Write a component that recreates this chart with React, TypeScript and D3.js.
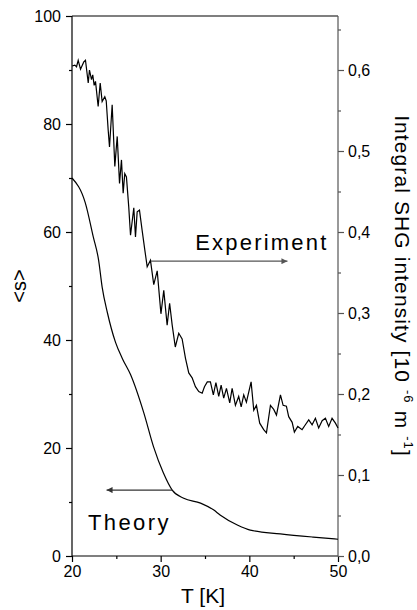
import React, { useEffect, useRef } from "react";
import * as d3 from "d3";

// theory curve, left axis <s>
const T_THEORY = [20.0, 21.5, 22.4, 23.0, 23.4, 24.0, 24.9, 25.7, 26.6, 28.1, 29.2, 30.3, 31.3, 32.6, 34.5, 36.0, 36.7, 38.7, 40.1, 43.5, 47.2, 50.0];
const S_THEORY = [70, 65.4, 59.1, 54.8, 49.8, 45.0, 39.6, 36.5, 33.6, 26.5, 20.2, 15.4, 12.2, 10.7, 9.8, 8.5, 7.6, 5.7, 4.8, 4.1, 3.5, 3.1];

// experiment, right axis (integral SHG intensity)
const T_EXP = [20.02, 20.32, 20.51, 20.7, 20.96, 21.33, 21.52, 21.83, 21.97, 22.2, 22.34, 22.5, 22.65, 22.95, 23.18, 23.4, 23.7, 23.86, 24.08, 24.23, 24.53, 24.83, 25.1, 25.36, 25.58, 25.77, 25.95, 26.14, 26.4, 26.6, 26.97, 27.16, 27.35, 27.61, 27.91, 28.21, 28.48, 28.85, 29.22, 29.61, 30.03, 30.35, 30.73, 31.01, 31.3, 31.65, 32.04, 32.42, 32.8, 33.17, 33.55, 33.92, 34.3, 34.68, 34.94, 35.26, 35.61, 35.94, 36.23, 36.55, 36.82, 37.11, 37.42, 37.79, 38.06, 38.43, 38.8, 39.08, 39.37, 39.67, 40.2, 40.5, 40.8, 41.17, 41.62, 41.93, 42.38, 42.75, 43.06, 43.51, 43.81, 44.18, 44.44, 44.83, 45.08, 45.46, 45.95, 46.32, 46.7, 47.08, 47.45, 47.82, 48.21, 48.58, 48.95, 49.33, 49.71, 50.0];
const SHG_EXP = [0.605, 0.606, 0.604, 0.612, 0.601, 0.61, 0.612, 0.584, 0.6, 0.588, 0.594, 0.581, 0.586, 0.555, 0.584, 0.561, 0.567, 0.562, 0.526, 0.505, 0.557, 0.481, 0.518, 0.46, 0.489, 0.448, 0.472, 0.468, 0.431, 0.396, 0.43, 0.394, 0.425, 0.427, 0.402, 0.378, 0.357, 0.365, 0.335, 0.352, 0.299, 0.328, 0.285, 0.312, 0.285, 0.258, 0.275, 0.268, 0.244, 0.226, 0.22, 0.209, 0.203, 0.201, 0.209, 0.215, 0.215, 0.199, 0.214, 0.197, 0.211, 0.195, 0.207, 0.189, 0.207, 0.186, 0.197, 0.184, 0.199, 0.19, 0.215, 0.18, 0.186, 0.164, 0.156, 0.152, 0.186, 0.181, 0.174, 0.199, 0.186, 0.185, 0.172, 0.165, 0.153, 0.16, 0.156, 0.162, 0.168, 0.162, 0.17, 0.158, 0.167, 0.17, 0.16, 0.17, 0.164, 0.158];

const X_TICKS = [20, 30, 40, 50];
const X_MINOR = [25, 35, 45];
const LEFT_TICKS = [0, 20, 40, 60, 80, 100];
const LEFT_MINOR = [10, 30, 50, 70, 90];
const RIGHT_TICKS = [0, 0.1, 0.2, 0.3, 0.4, 0.5, 0.6];
const RIGHT_MINOR = [0.05, 0.15, 0.25, 0.35, 0.45, 0.55, 0.65];

const FONT = "'Liberation Sans', Arial, sans-serif";

export default function App() {
  const ref = useRef<SVGSVGElement>(null);

  useEffect(() => {
    const svg = d3.select(ref.current);
    svg.selectAll("*").remove();

    const left = 72, right = 338, top = 16, bottom = 556;
    const x = d3.scaleLinear().domain([20, 50]).range([left, right]);
    const y = d3.scaleLinear().domain([0, 100]).range([bottom, top]);
    const yr = d3.scaleLinear().domain([0, 100 / 150]).range([bottom, top]);

    const defs = svg.append("defs");
    const mk = (id, color) =>
      defs.append("marker")
        .attr("id", id)
        .attr("viewBox", "0 0 10 10")
        .attr("refX", 10).attr("refY", 5)
        .attr("markerWidth", 10).attr("markerHeight", 6)
        .attr("markerUnits", "userSpaceOnUse")
        .attr("orient", "auto")
        .append("path")
        .attr("d", "M0,0 L10,5 L0,10 z")
        .attr("fill", color);
    mk("arrR", "#555");
    mk("arrL", "#333");

    const styleAxis = (g, color) => {
      g.select(".domain").remove();
      g.selectAll("line").attr("stroke", color).attr("stroke-width", 1.2);
      g.selectAll("text").attr("font-family", FONT).attr("font-size", 16).attr("fill", "#000");
    };

    // bottom
    const gb = svg.append("g").attr("transform", `translate(0,${bottom})`)
      .call(d3.axisBottom(x).tickValues(X_TICKS).tickSize(6).tickPadding(4).tickFormat(d3.format("d")));
    styleAxis(gb, "#000");
    const gbm = svg.append("g").attr("transform", `translate(0,${bottom})`)
      .call(d3.axisBottom(x).tickValues(X_MINOR).tickSize(3).tickFormat(() => ""));
    styleAxis(gbm, "#000");

    // left
    const gl = svg.append("g").attr("transform", `translate(${left},0)`)
      .call(d3.axisLeft(y).tickValues(LEFT_TICKS).tickSize(6).tickPadding(5).tickFormat(d3.format("d")));
    styleAxis(gl, "#000");
    const glm = svg.append("g").attr("transform", `translate(${left},0)`)
      .call(d3.axisLeft(y).tickValues(LEFT_MINOR).tickSize(3).tickFormat(() => ""));
    styleAxis(glm, "#000");

    // right
    const fmt = (d) => d3.format(".1f")(d).replace(".", ",");
    const gr = svg.append("g").attr("transform", `translate(${right},0)`)
      .call(d3.axisRight(yr).tickValues(RIGHT_TICKS).tickSize(6).tickPadding(4).tickFormat(fmt));
    styleAxis(gr, "#555");
    const grm = svg.append("g").attr("transform", `translate(${right},0)`)
      .call(d3.axisRight(yr).tickValues(RIGHT_MINOR).tickSize(3).tickFormat(() => ""));
    styleAxis(grm, "#555");

    // frame
    svg.append("line").attr("x1", left).attr("x2", right).attr("y1", top).attr("y2", top)
      .attr("stroke", "#000").attr("stroke-width", 1.2);
    svg.append("line").attr("x1", left).attr("x2", left).attr("y1", top).attr("y2", bottom)
      .attr("stroke", "#000").attr("stroke-width", 1.2);
    svg.append("line").attr("x1", left).attr("x2", right).attr("y1", bottom).attr("y2", bottom)
      .attr("stroke", "#000").attr("stroke-width", 1.2);
    svg.append("line").attr("x1", right).attr("x2", right).attr("y1", top).attr("y2", bottom)
      .attr("stroke", "#555").attr("stroke-width", 1.2);

    // curves
    const theory = T_THEORY.map((t, i) => [t, S_THEORY[i]]);
    svg.append("path")
      .attr("d", d3.line().x(d => x(d[0])).y(d => y(d[1])).curve(d3.curveMonotoneX)(theory))
      .attr("fill", "none").attr("stroke", "#000").attr("stroke-width", 1.2);

    const exp = T_EXP.map((t, i) => [t, SHG_EXP[i]]);
    svg.append("path")
      .attr("d", d3.line().x(d => x(d[0])).y(d => yr(d[1]))(exp))
      .attr("fill", "none").attr("stroke", "#000").attr("stroke-width", 1.2);

    // annotations
    svg.append("line")
      .attr("x1", x(28.9)).attr("x2", x(44.3)).attr("y1", y(54.6)).attr("y2", y(54.6))
      .attr("stroke", "#555").attr("stroke-width", 1.3).attr("marker-end", "url(#arrR)");
    svg.append("line")
      .attr("x1", x(31.3)).attr("x2", x(23.9)).attr("y1", y(12.2)).attr("y2", y(12.2))
      .attr("stroke", "#333").attr("stroke-width", 1.3).attr("marker-end", "url(#arrL)");

    svg.append("text").attr("x", x(33.9)).attr("y", 250)
      .attr("font-family", FONT).attr("font-size", 22).attr("letter-spacing", 2.2)
      .text("Experiment");
    svg.append("text").attr("x", x(21.8)).attr("y", 530)
      .attr("font-family", FONT).attr("font-size", 22).attr("letter-spacing", 2.4)
      .text("Theory");

    // axis titles
    svg.append("text").attr("x", (left + right) / 2 - 2).attr("y", 603)
      .attr("text-anchor", "middle").attr("font-family", FONT).attr("font-size", 21)
      .text("T [K]");
    svg.append("text").attr("transform", `translate(26,${(top + bottom) / 2}) rotate(-90)`)
      .attr("text-anchor", "middle").attr("font-family", FONT).attr("font-size", 20)
      .text("<s>");

    const rt = svg.append("text").attr("transform", `translate(395,${(top + bottom) / 2}) rotate(90)`)
      .attr("text-anchor", "middle").attr("font-family", FONT).attr("font-size", 21)
      .attr("letter-spacing", 1.1);
    rt.append("tspan").text("Integral SHG intensity [10 ");
    rt.append("tspan").attr("dy", -9).attr("font-size", 13).text("-6");
    rt.append("tspan").attr("dy", 9).text(" m ");
    rt.append("tspan").attr("dy", -9).attr("font-size", 13).text("-1");
    rt.append("tspan").attr("dy", 9).text("]");
  }, []);

  return (
    <svg ref={ref} width={417} height={610}
      style={{ position: "absolute", left: 0, top: 0, background: "#fff" }} />
  );
}
